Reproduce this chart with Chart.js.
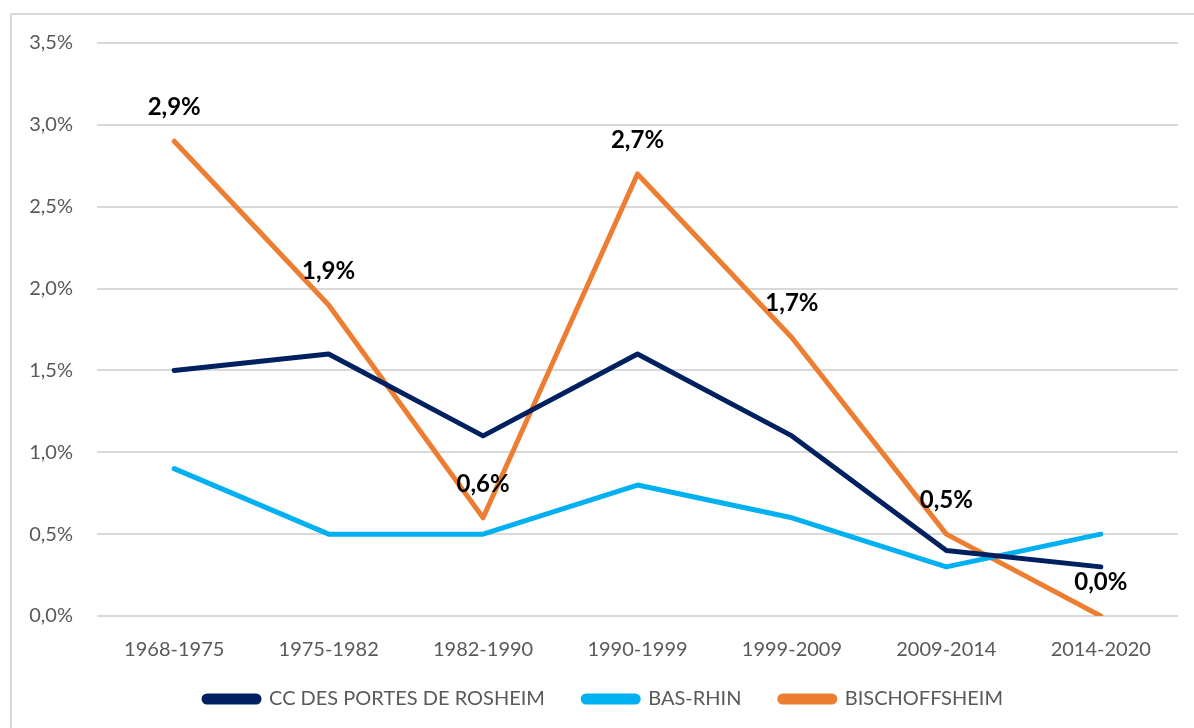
<!DOCTYPE html>
<html><head><meta charset="utf-8">
<script src="https://cdn.jsdelivr.net/npm/chart.js@4/dist/chart.umd.min.js"></script>
<style>
html,body{margin:0;padding:0;background:#fff;}
#frame{position:absolute;left:10px;top:13px;width:1200px;height:730px;border-left:2px solid #d9d9d9;border-top:2px solid #d9d9d9;}
#wrap{position:absolute;left:0;top:0;width:1194px;height:728px;}
</style></head>
<body>
<div id="frame"></div>
<div id="wrap"><canvas id="c" width="1194" height="728"></canvas></div>
<script>
const categories = ["1968-1975","1975-1982","1982-1990","1990-1999","1999-2009","2009-2014","2014-2020"];
const ccPortesRosheim = [1.5, 1.6, 1.1, 1.6, 1.1, 0.4, 0.3];
const basRhin = [0.9, 0.5, 0.5, 0.8, 0.6, 0.3, 0.5];
const bischoffsheim = [2.9, 1.9, 0.6, 2.7, 1.7, 0.5, 0.0];
const yTicks = [0, 0.5, 1, 1.5, 2, 2.5, 3, 3.5];

const fmt = v => v.toFixed(1).replace('.', ',') + '%';
const FONT = "Lato, 'Open Sans', sans-serif";

// extra horizontal gap between legend items (beyond labels.padding)
const LEGEND_PAD = 23;
const mctx = document.createElement('canvas').getContext('2d');
mctx.font = "20px " + FONT;
const nbspW = mctx.measureText('\u00A0').width || 5;
const extraSpaces = '\u00A0'.repeat(Math.max(0, Math.round((40 - LEGEND_PAD) / nbspW)));

const labelPlugin = {
  id: 'pointLabels',
  afterDatasetsDraw(chart) {
    const ctx = chart.ctx;
    const idx = 2;
    const meta = chart.getDatasetMeta(idx);
    const data = chart.data.datasets[idx].data;
    ctx.save();
    ctx.font = "bold 24px " + FONT;
    ctx.fillStyle = '#000';
    ctx.textAlign = 'center';
    ctx.textBaseline = 'middle';
    meta.data.forEach((pt, i) => {
      ctx.fillText(fmt(data[i]), pt.x, pt.y - 34);
    });
    ctx.restore();
  }
};

new Chart(document.getElementById('c'), {
  type: 'line',
  data: {
    labels: categories,
    datasets: [
      {label: 'CC DES PORTES DE ROSHEIM', data: ccPortesRosheim, borderColor: '#002060', backgroundColor: '#002060', borderWidth: 5, pointRadius: 0, tension: 0, borderCapStyle: 'round', borderJoinStyle: 'round'},
      {label: 'BAS-RHIN', data: basRhin, borderColor: '#00B0F0', backgroundColor: '#00B0F0', borderWidth: 5, pointRadius: 0, tension: 0, borderCapStyle: 'round', borderJoinStyle: 'round'},
      {label: 'BISCHOFFSHEIM', data: bischoffsheim, borderColor: '#ED7D31', backgroundColor: '#ED7D31', borderWidth: 5, pointRadius: 0, tension: 0, borderCapStyle: 'round', borderJoinStyle: 'round'}
    ]
  },
  options: {
    responsive: false,
    animation: false,
    layout: {padding: {left: 29, right: 16, top: 43, bottom: 9}},
    plugins: {
      tooltip: {enabled: false},
      legend: {
        position: 'bottom',
        labels: {
          boxWidth: 55, boxHeight: 6, padding: LEGEND_PAD,
          color: '#595959',
          useBorderRadius: true, borderRadius: 3,
          font: {family: FONT, size: 20},
          generateLabels(chart) {
            const items = Chart.defaults.plugins.legend.labels.generateLabels(chart);
            items.forEach((it, i) => { if (i < items.length - 1) it.text = it.text + extraSpaces; });
            return items;
          }
        }
      }
    },
    scales: {
      x: {
        offset: true,
        grid: {display: false},
        border: {display: false},
        afterFit(scale) { scale.height = 50; },
        ticks: {color: '#595959', font: {family: FONT, size: 20}, padding: 14, maxRotation: 0}
      },
      y: {
        min: 0, max: 3.5,
        afterFit(scale) { scale.width = 68; },
        afterBuildTicks(scale) { scale.ticks = yTicks.map(v => ({value: v})); },
        grid: {color: '#d9d9d9', lineWidth: 2, drawTicks: false},
        border: {display: false},
        ticks: {color: '#595959', font: {family: FONT, size: 20}, padding: 24, callback: v => fmt(v)}
      }
    }
  },
  plugins: [labelPlugin]
});
</script>
</body></html>
